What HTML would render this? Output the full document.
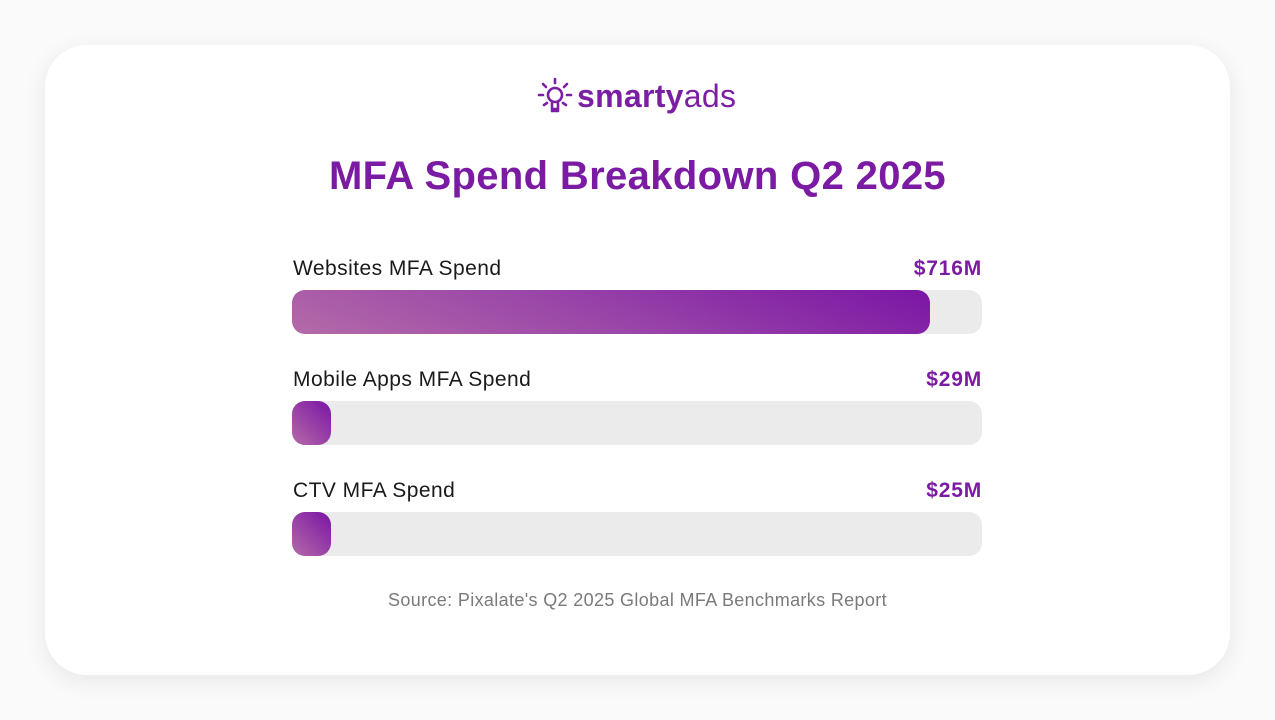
<!DOCTYPE html>
<html><head><meta charset="utf-8"><style>
body{margin:0;width:1275px;height:720px;background:#fafafa;position:relative;overflow:hidden;font-family:"Liberation Sans",sans-serif}
.card{position:absolute;left:45px;top:45px;width:1185px;height:630px;background:#fff;border-radius:42px;box-shadow:0 6px 24px rgba(0,0,0,0.08)}
.logo{position:absolute;left:537px;top:74px;height:44px;display:flex;align-items:center}
.logo span{font-size:32px;color:#7b1fa2;margin-left:4px;letter-spacing:0.3px}
.title{position:absolute;left:0;width:1275px;top:154px;text-align:center;font-size:40px;font-weight:bold;color:#7b1ba3;letter-spacing:0.35px}
.lbl{position:absolute;left:293px;font-size:21px;color:#1a1a1a;letter-spacing:0.45px}
.val{position:absolute;right:293px;font-size:21px;font-weight:bold;color:#7b1ba3;letter-spacing:0.8px}
.track{position:absolute;left:292px;width:690px;height:44px;background:#ebebeb;border-radius:13px}
.fill{position:absolute;left:0;top:0;height:44px;border-radius:13px;background:linear-gradient(20deg,#b46aa8 0%,#9a47a8 45%,#7b15a5 100%)}
.fill.s{background:linear-gradient(45deg,#b46aa8 0%,#7b15a5 100%)}
.src{position:absolute;left:0;width:1275px;top:590px;text-align:center;font-size:18px;color:#7a7a7a;letter-spacing:0.35px}
</style></head><body>
<div class="card"></div>
<div class="logo">
<svg width="36" height="40" viewBox="0 0 36 40"><g stroke="#7b1fa2" stroke-width="2.6" fill="none" stroke-linecap="round"><circle cx="18" cy="19" r="7"/><path d="M15 27v6h6v-6M15 35h6"/><path d="M18 3v4M6 8l3 3M30 8l-3 3M2 19h4M30 19h4M7 29l3-2M29 29l-3-2"/></g></svg>
<span><b>smarty</b>ads</span>
</div>
<div class="title">MFA Spend Breakdown Q2 2025</div>
<div class="lbl" style="top:257px">Websites MFA Spend</div><div class="val" style="top:257px">$716M</div>
<div class="track" style="top:290px"><div class="fill" style="width:638px"></div></div>
<div class="lbl" style="top:368px">Mobile Apps MFA Spend</div><div class="val" style="top:368px">$29M</div>
<div class="track" style="top:401px"><div class="fill s" style="width:39px"></div></div>
<div class="lbl" style="top:479px">CTV MFA Spend</div><div class="val" style="top:479px">$25M</div>
<div class="track" style="top:512px"><div class="fill s" style="width:39px"></div></div>
<div class="src">Source: Pixalate's Q2 2025 Global MFA Benchmarks Report</div>
</body></html>
